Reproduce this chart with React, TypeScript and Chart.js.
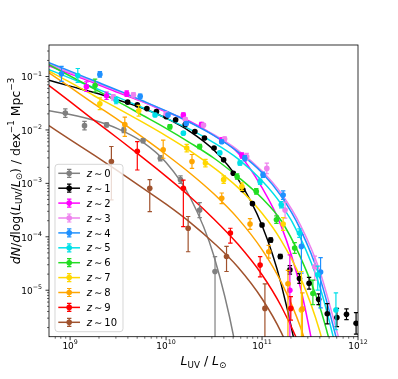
import React, { useEffect, useRef } from "react";
import { Chart, registerables } from "chart.js";

Chart.register(...registerables);

const FONT_FAMILY = '"DejaVu Sans", "Liberation Sans", sans-serif';

// axis ranges (log10 units)
const xLogMin = 8.78;
const xLogMax = 12;
const yLogMin = -5.87;
const yLogMax = -0.41;

// tick label exponents
const xMajorExps = [9, 10, 11, 12];
const yMajorExps = [-5, -4, -3, -2, -1];

const redshiftLabels = ["0", "1", "2", "3", "4", "5", "6", "7", "8", "9", "10"];
const seriesColors = [
  "#808080", "#000000", "#ff00ff", "#ee82ee", "#1e90ff", "#00e0e8",
  "#22dd22", "#ffd700", "#ffa500", "#ff0000", "#a0522d",
];

// model curves: log10(L) grid and log10(phi) per redshift (null = off the plot)
const curveLogL = [8.78, 9.0, 9.25, 9.5, 9.75, 10.0, 10.25, 10.5, 10.75, 11.0, 11.2, 11.4, 11.6, 11.8];
const curveZ0 = [-1.64, -1.71, -1.82, -1.98, -2.22, -2.61, -3.26, -4.37, -6.32, -9.7, null, null, null, null];
const curveZ1 = [-1.07, -1.18, -1.30, -1.44, -1.59, -1.78, -2.03, -2.38, -2.92, -3.79, -4.89, -6.58, -9.2, null];
const curveZ2 = [-0.80, -0.95, -1.12, -1.30, -1.47, -1.66, -1.84, -2.10, -2.43, -3.08, -3.80, -4.95, -6.70, -8.50];
const curveZ3 = [-0.77, -0.925, -1.10, -1.275, -1.46, -1.65, -1.86, -2.09, -2.38, -2.77, -3.19, -3.78, -4.63, -5.90];
const curveZ4 = [-0.74, -0.90, -1.08, -1.26, -1.45, -1.645, -1.86, -2.105, -2.41, -2.80, -3.24, -3.86, -4.75, -6.07];
const curveZ5 = [-0.87, -1.03, -1.21, -1.39, -1.58, -1.78, -1.99, -2.24, -2.54, -2.95, -3.39, -4.02, -4.92, -6.28];
const curveZ6 = [-0.78, -0.99, -1.23, -1.47, -1.72, -1.97, -2.24, -2.53, -2.88, -3.28, -3.70, -4.38, -5.30, -6.60];
const curveZ7 = [-0.90, -1.11, -1.36, -1.60, -1.85, -2.11, -2.39, -2.71, -3.08, -3.56, -4.07, -4.76, -5.76, -7.22];
const curveZ8 = [-0.93, -1.20, -1.51, -1.81, -2.13, -2.46, -2.81, -3.20, -3.66, -4.24, -4.85, -5.69, -6.87, -8.30];
const curveZ9 = [-1.17, -1.47, -1.82, -2.16, -2.51, -2.87, -3.25, -3.67, -4.14, -4.71, -5.30, -6.08, -7.15, -8.50];
const curveZ10 = [-1.92, -2.18, -2.47, -2.77, -3.08, -3.39, -3.73, -4.12, -4.57, -5.16, -5.79, -6.66, -7.80, -9.20];
const curveTable = [curveZ0, curveZ1, curveZ2, curveZ3, curveZ4, curveZ5, curveZ6, curveZ7, curveZ8, curveZ9, curveZ10];

// data points: log10(L), log10(phi), error up / down in dex
const z0LogL = [8.95, 9.15, 9.38, 9.56, 9.76, 9.94, 10.15, 10.35, 10.51];
const z0LogPhi = [-1.685, -1.92, -1.905, -2.0, -2.20, -2.53, -2.93, -3.50, -4.65];
const z0Up = [0.08, 0.08, 0.04, 0.05, 0.04, 0.05, 0.07, 0.14, 0.28];
const z0Dn = [0.08, 0.08, 0.04, 0.05, 0.04, 0.05, 0.07, 0.14, 3];

const z1LogL = [9.6, 9.7, 9.8, 9.9, 10.0, 10.1, 10.2, 10.3, 10.4, 10.5, 10.6, 10.7, 10.8, 10.9, 11.0, 11.09, 11.19, 11.29, 11.39, 11.49, 11.59, 11.68, 11.78, 11.88, 11.98];
const z1LogPhi = [-1.48, -1.53, -1.60, -1.655, -1.75, -1.81, -1.90, -2.03, -2.15, -2.34, -2.56, -2.81, -3.12, -3.38, -3.78, -4.06, -4.37, -4.62, -4.78, -4.87, -5.17, -5.44, -5.51, -5.45, -5.62];
const z1Up = [0.02, 0.02, 0.02, 0.02, 0.02, 0.02, 0.02, 0.02, 0.02, 0.02, 0.02, 0.02, 0.02, 0.02, 0.03, 0.04, 0.04, 0.08, 0.09, 0.11, 0.1, 0.19, 0.17, 0.1, 0.2];
const z1Dn = [0.02, 0.02, 0.02, 0.02, 0.02, 0.02, 0.02, 0.02, 0.02, 0.02, 0.02, 0.02, 0.02, 0.02, 0.03, 0.04, 0.04, 0.08, 0.09, 0.11, 0.1, 0.19, 0.17, 0.1, 0.2];

const z2LogL = [9.17, 9.38, 9.59, 10.18, 10.37, 10.58, 10.79, 11.29];
const z2LogPhi = [-1.19, -1.36, -1.32, -1.72, -1.90, -2.19, -2.48, -5.0];
const z2Up = [0.09, 0.07, 0.05, 0.04, 0.04, 0.04, 0.05, 0.66];
const z2Dn = [0.09, 0.07, 0.05, 0.04, 0.04, 0.04, 0.05, 3];

const z3LogL = [9.45, 9.66, 10.0, 10.2, 10.39, 10.61, 10.84, 11.05, 11.24, 11.55];
const z3LogPhi = [-1.39, -1.34, -1.70, -1.80, -1.91, -2.17, -2.50, -2.72, -3.50, -4.56];
const z3Up = [0.05, 0.04, 0.03, 0.03, 0.03, 0.04, 0.06, 0.1, 0.15, 0.2];
const z3Dn = [0.05, 0.04, 0.03, 0.03, 0.03, 0.04, 0.06, 0.1, 0.15, 0.25];

const z4LogL = [8.91, 9.31, 9.73, 10.02, 10.21, 10.58, 10.82, 11.01, 11.22, 11.41, 11.61];
const z4LogPhi = [-0.95, -0.96, -1.37, -1.72, -1.88, -2.22, -2.53, -2.84, -3.22, -4.18, -4.66];
const z4Up = [0.14, 0.05, 0.04, 0.03, 0.03, 0.03, 0.05, 0.05, 0.08, 0.22, 0.27];
const z4Dn = [0.14, 0.05, 0.04, 0.03, 0.03, 0.03, 0.05, 0.05, 0.08, 0.50, 0.67];

const z5LogL = [9.08, 9.48, 9.885, 10.18, 10.56, 10.77, 10.98, 11.2, 11.39, 11.58, 11.77];
const z5LogPhi = [-0.98, -1.45, -1.72, -2.06, -2.43, -2.62, -2.97, -3.40, -3.93, -4.71, -5.37];
const z5Up = [0.13, 0.06, 0.03, 0.03, 0.03, 0.04, 0.05, 0.06, 0.08, 0.16, 0.32];
const z5Dn = [0.13, 0.06, 0.03, 0.03, 0.03, 0.04, 0.05, 0.06, 0.08, 0.29, 0.37];

const z6LogL = [9.26, 10.04, 10.35, 10.74, 10.94, 11.15, 11.34, 11.53];
const z6LogPhi = [-1.17, -1.94, -2.31, -2.87, -3.15, -3.68, -4.21, -5.06];
const z6Up = [0.12, 0.04, 0.04, 0.05, 0.05, 0.07, 0.1, 0.25];
const z6Dn = [0.12, 0.04, 0.04, 0.05, 0.05, 0.07, 0.1, 0.21];

const z7LogL = [9.31, 9.715, 10.215, 10.41, 10.60, 10.79, 11.22, 11.41];
const z7LogPhi = [-1.51, -1.64, -2.34, -2.62, -2.93, -3.06, -3.76, -5.37];
const z7Up = [0.11, 0.1, 0.07, 0.07, 0.07, 0.07, 0.12, 0.72];
const z7Dn = [0.11, 0.1, 0.07, 0.07, 0.07, 0.07, 0.12, 3];

const z8LogL = [9.57, 9.97, 10.27, 10.58, 10.875, 11.07, 11.27, 11.42];
const z8LogPhi = [-1.90, -2.37, -2.59, -3.28, -3.76, -4.28, -4.88, -5.35];
const z8Up = [0.14, 0.18, 0.13, 0.1, 0.1, 0.12, 0.25, 0.3];
const z8Dn = [0.22, 0.16, 0.13, 0.1, 0.1, 0.12, 3, 3];

const z9LogL = [9.70, 10.18, 10.67, 10.98, 11.30];
const z9LogPhi = [-2.40, -3.09, -3.93, -4.53, -5.34];
const z9Up = [0.18, 0.15, 0.09, 0.16, 0.22];
const z9Dn = [0.35, 0.72, 0.19, 0.22, 0.22];

const z10LogL = [9.43, 9.83, 10.23, 10.63, 11.03];
const z10LogPhi = [-2.59, -3.09, -3.84, -4.37, -5.34];
const z10Up = [0.28, 0.16, 0.22, 0.19, 0.46];
const z10Dn = [0.72, 0.44, 0.44, 0.28, 3];

const pointTable = [
  [z0LogL, z0LogPhi, z0Up, z0Dn],
  [z1LogL, z1LogPhi, z1Up, z1Dn],
  [z2LogL, z2LogPhi, z2Up, z2Dn],
  [z3LogL, z3LogPhi, z3Up, z3Dn],
  [z4LogL, z4LogPhi, z4Up, z4Dn],
  [z5LogL, z5LogPhi, z5Up, z5Dn],
  [z6LogL, z6LogPhi, z6Up, z6Dn],
  [z7LogL, z7LogPhi, z7Up, z7Dn],
  [z8LogL, z8LogPhi, z8Up, z8Dn],
  [z9LogL, z9LogPhi, z9Up, z9Dn],
  [z10LogL, z10LogPhi, z10Up, z10Dn],
];

type Run = { t: string; s: number; dy?: number; it?: boolean };

function fontOf(r: Run) {
  return `${r.it ? "italic " : ""}${r.s}px ${FONT_FAMILY}`;
}

function drawRuns(ctx: CanvasRenderingContext2D, runs: Run[], x: number, y: number, align: "left" | "center" | "right") {
  let w = 0;
  for (const r of runs) {
    ctx.font = fontOf(r);
    w += ctx.measureText(r.t).width;
  }
  let cx = align === "center" ? x - w / 2 : align === "right" ? x - w : x;
  ctx.textAlign = "left";
  ctx.textBaseline = "alphabetic";
  for (const r of runs) {
    ctx.font = fontOf(r);
    ctx.fillText(r.t, cx, y + (r.dy || 0));
    cx += ctx.measureText(r.t).width;
  }
}

const decorPlugin = {
  id: "mplDecor",
  beforeDatasetDraw(chart: any, args: any) {
    const ds: any = chart.data.datasets[args.index];
    if (!ds.errUp) return;
    const ctx: CanvasRenderingContext2D = chart.ctx;
    const { left, right, top, bottom } = chart.chartArea;
    const xs = chart.scales.x;
    const ys = chart.scales.y;
    ctx.save();
    ctx.beginPath();
    ctx.rect(left, top, right - left, bottom - top);
    ctx.clip();
    ctx.strokeStyle = ds.backgroundColor;
    ctx.lineWidth = 1.2;
    ds.data.forEach((p: any, i: number) => {
      const px = xs.getPixelForValue(p.x);
      const yHi = ys.getPixelForValue(p.y * Math.pow(10, ds.errUp[i]));
      const yLo = ys.getPixelForValue(p.y / Math.pow(10, ds.errDn[i]));
      ctx.beginPath();
      ctx.moveTo(px, yHi);
      ctx.lineTo(px, yLo);
      ctx.moveTo(px - 2.2, yHi);
      ctx.lineTo(px + 2.2, yHi);
      ctx.moveTo(px - 2.2, yLo);
      ctx.lineTo(px + 2.2, yLo);
      ctx.stroke();
    });
    ctx.restore();
  },
  afterDraw(chart: any) {
    const ctx: CanvasRenderingContext2D = chart.ctx;
    const { left, right, top, bottom } = chart.chartArea;
    const xs = chart.scales.x;
    const ys = chart.scales.y;
    ctx.save();
    ctx.fillStyle = "#000";
    ctx.strokeStyle = "#000";

    // spines
    ctx.lineWidth = 0.8;
    ctx.strokeRect(left, top, right - left, bottom - top);

    // x ticks
    for (let e = 8; e <= 12; e++) {
      for (let k = 1; k <= 9; k++) {
        const lv = e + Math.log10(k);
        if (lv < xLogMin - 1e-9 || lv > xLogMax + 1e-9) continue;
        const px = xs.getPixelForValue(Math.pow(10, lv));
        const len = k === 1 ? 3.5 : 2;
        ctx.lineWidth = k === 1 ? 0.8 : 0.6;
        ctx.beginPath();
        ctx.moveTo(px, bottom);
        ctx.lineTo(px, bottom + len);
        ctx.stroke();
      }
    }
    // y ticks
    for (let e = -6; e <= -1; e++) {
      for (let k = 1; k <= 9; k++) {
        const lv = e + Math.log10(k);
        if (lv < yLogMin - 1e-9 || lv > yLogMax + 1e-9) continue;
        const py = ys.getPixelForValue(Math.pow(10, lv));
        const len = k === 1 ? 3.5 : 2;
        ctx.lineWidth = k === 1 ? 0.8 : 0.6;
        ctx.beginPath();
        ctx.moveTo(left, py);
        ctx.lineTo(left - len, py);
        ctx.stroke();
      }
    }

    // tick labels
    for (const e of xMajorExps) {
      const px = xs.getPixelForValue(Math.pow(10, e));
      drawRuns(ctx, [{ t: "10", s: 9 }, { t: String(e), s: 6.3, dy: -4.8 }], px, bottom + 12.5, "center");
    }
    for (const e of yMajorExps) {
      const py = ys.getPixelForValue(Math.pow(10, e));
      drawRuns(ctx, [{ t: "10", s: 9 }, { t: "\u2212" + String(-e), s: 6.3, dy: -4.8 }], left - 7, py + 3.8, "right");
    }

    // x title
    drawRuns(
      ctx,
      [
        { t: "L", s: 12.5, it: true },
        { t: "UV", s: 8.75, dy: 2.6 },
        { t: " / ", s: 12.5 },
        { t: "L", s: 12.5, it: true },
        { t: "\u2299", s: 8.75, dy: 2.6 },
      ],
      (left + right) / 2,
      365,
      "center"
    );

    // y title
    ctx.save();
    ctx.translate(19.5, 171);
    ctx.rotate(-Math.PI / 2);
    drawRuns(
      ctx,
      [
        { t: "dN", s: 12.5, it: true },
        { t: "/", s: 12.5 },
        { t: "d", s: 12.5, it: true },
        { t: "log", s: 12.5 },
        { t: "(", s: 12.5 },
        { t: "L", s: 12.5, it: true },
        { t: "UV", s: 8.75, dy: 2.6 },
        { t: "/", s: 12.5 },
        { t: "L", s: 12.5, it: true },
        { t: "\u2299", s: 8.75, dy: 2.6 },
        { t: ")", s: 12.5 },
        { t: " / dex", s: 12.5 },
        { t: "\u22121", s: 8.75, dy: -5.2 },
        { t: " Mpc", s: 12.5 },
        { t: "\u22123", s: 8.75, dy: -5.2 },
      ],
      0,
      0,
      "center"
    );
    ctx.restore();

    // legend
    const lx0 = 55, lx1 = 123, ly0 = 164.3, ly1 = 331.7;
    ctx.beginPath();
    (ctx as any).roundRect(lx0, ly0, lx1 - lx0, ly1 - ly0, 3);
    ctx.fillStyle = "rgba(255,255,255,0.8)";
    ctx.fill();
    ctx.strokeStyle = "rgba(204,204,204,0.8)";
    ctx.lineWidth = 1;
    ctx.stroke();
    redshiftLabels.forEach((lab, i) => {
      const y = 173.3 + 14.9 * i;
      const c = seriesColors[i];
      ctx.strokeStyle = c;
      ctx.fillStyle = c;
      ctx.lineWidth = 1.5;
      ctx.beginPath();
      ctx.moveTo(58.3, y);
      ctx.lineTo(80, y);
      ctx.stroke();
      ctx.lineWidth = 1.2;
      ctx.beginPath();
      ctx.moveTo(69.2, y - 4);
      ctx.lineTo(69.2, y + 4);
      ctx.moveTo(67, y - 4);
      ctx.lineTo(71.4, y - 4);
      ctx.moveTo(67, y + 4);
      ctx.lineTo(71.4, y + 4);
      ctx.stroke();
      ctx.beginPath();
      ctx.arc(69.2, y, 2.8, 0, Math.PI * 2);
      ctx.fill();
      ctx.fillStyle = "#000";
      drawRuns(
        ctx,
        [
          { t: "z", s: 10, it: true },
          { t: "\u2009\u223c\u2009", s: 10 },
          { t: lab, s: 10 },
        ],
        86.7,
        y + 3.6,
        "left"
      );
    });
    ctx.restore();
  },
};

export default function App() {
  const ref = useRef<HTMLCanvasElement | null>(null);
  useEffect(() => {
    if (!ref.current) return;
    const datasets: any[] = [];
    curveTable.forEach((vals, i) => {
      const data: { x: number; y: number }[] = [];
      vals.forEach((v, j) => {
        if (v !== null) data.push({ x: Math.pow(10, curveLogL[j]), y: Math.pow(10, v as number) });
      });
      datasets.push({
        label: "model z~" + redshiftLabels[i],
        data,
        showLine: true,
        borderColor: seriesColors[i],
        backgroundColor: seriesColors[i],
        borderWidth: 1.5,
        pointRadius: 0,
        cubicInterpolationMode: "monotone",
        fill: false,
        order: 50 - i,
      });
    });
    pointTable.forEach((row, i) => {
      const [lL, lP, up, dn] = row;
      datasets.push({
        label: "z~" + redshiftLabels[i],
        data: lL.map((l, j) => ({ x: Math.pow(10, l), y: Math.pow(10, lP[j]) })),
        showLine: false,
        backgroundColor: seriesColors[i],
        borderColor: seriesColors[i],
        pointBackgroundColor: seriesColors[i],
        pointBorderWidth: 0,
        pointRadius: 2.8,
        pointStyle: "circle",
        errUp: up,
        errDn: dn,
        order: 20 - i,
      });
    });
    const chart = new Chart(ref.current, {
      type: "scatter",
      data: { datasets },
      options: {
        animation: false,
        responsive: false,
        devicePixelRatio: 1,
        events: [],
        layout: { padding: { left: 49, right: 40, top: 45, bottom: 42.3 } },
        plugins: { legend: { display: false }, tooltip: { enabled: false } },
        scales: {
          x: { type: "logarithmic", min: Math.pow(10, xLogMin), max: Math.pow(10, xLogMax), display: false },
          y: { type: "logarithmic", min: Math.pow(10, yLogMin), max: Math.pow(10, yLogMax), display: false },
        },
      } as any,
      plugins: [decorPlugin as any],
    });
    return () => chart.destroy();
  }, []);
  return (
    <div style={{ position: "fixed", left: 0, top: 0, width: 398, height: 379, background: "#fff" }}>
      <canvas ref={ref} width={398} height={379} style={{ width: 398, height: 379, display: "block" }} />
    </div>
  );
}
